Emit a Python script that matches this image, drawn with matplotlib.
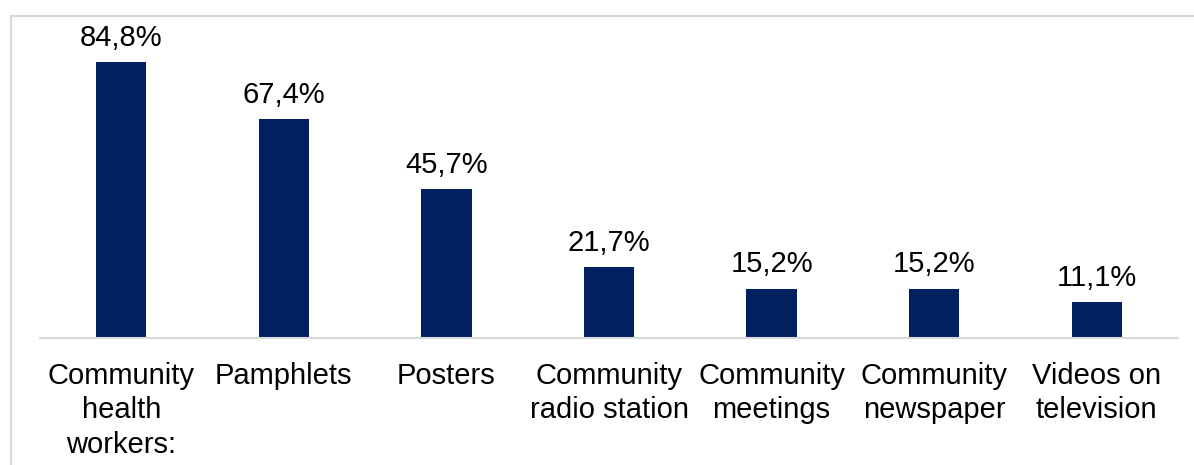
import matplotlib.pyplot as plt
from matplotlib.patches import Rectangle

categories = ["Community\nhealth\nworkers:", "Pamphlets", "Posters",
              "Community\nradio station", "Community\nmeetings",
              "Community\nnewspaper", "Videos on\ntelevision"]
values = [84.8, 67.4, 45.7, 21.7, 15.2, 15.2, 11.1]

plt.rcParams['font.family'] = ['Liberation Sans', 'DejaVu Sans']

W, H = 1194, 465
fig = plt.figure(figsize=(W / 100, H / 100), dpi=100)
ax = fig.add_axes([40 / W, (H - 338) / H, (1178 - 40) / W, 325 / H])

x = range(len(categories))
bars = ax.bar(x, values, width=0.31, color='#002060')
for b, v in zip(bars, values):
    ax.text(b.get_x() + b.get_width() / 2, v + 3.2, f"{v:.1f}%".replace('.', ','),
            ha='center', va='bottom', fontsize=21)

ax.set_xlim(-0.5, len(categories) - 0.5)
ax.set_ylim(0, 100)
ax.set_xticks(list(x))
ax.set_xticklabels(categories, fontsize=21, linespacing=1.3)
ax.tick_params(axis='x', length=0, pad=17)
ax.set_yticks([])
for s in ['top', 'left', 'right']:
    ax.spines[s].set_visible(False)
ax.spines['bottom'].set_color('#d9d9d9')
ax.spines['bottom'].set_linewidth(1.5)

# outer chart border (left and top edges visible)
fig.add_artist(Rectangle((11 / W, -0.1), 1.2, 1.1 - 16 / H, transform=fig.transFigure,
                         fill=False, edgecolor='#d9d9d9', linewidth=1.5))

fig.savefig('out.png', dpi=100)
